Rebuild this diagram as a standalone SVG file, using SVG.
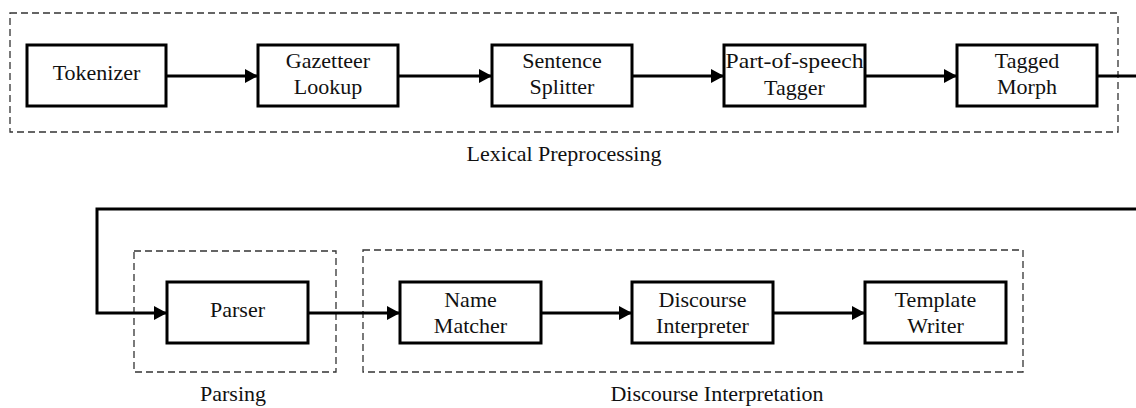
<svg xmlns="http://www.w3.org/2000/svg" width="1136" height="408" viewBox="0 0 1136 408">
<style>
.grp{fill:none;stroke:#333;stroke-width:1.3;stroke-dasharray:7,4}
.box{fill:#fff;stroke:#000;stroke-width:3}
.t{font-family:"Liberation Serif","Times New Roman",serif;font-size:22px;fill:#111;text-anchor:middle}
.c{fill:none;stroke:#000;stroke-width:3}
</style>
<defs>
<marker id="ah" markerWidth="14" markerHeight="14" refX="13" refY="7" orient="auto" markerUnits="userSpaceOnUse">
<path d="M0,0 L13,7 L0,14 Z" fill="#000"/>
</marker>
</defs>
<g id="groups">
<rect class="grp" x="10" y="13" width="1108" height="119"/>
<text class="t" x="564" y="161">Lexical Preprocessing</text>
<rect class="grp" x="134" y="251" width="202" height="121"/>
<text class="t" x="233" y="401">Parsing</text>
<rect class="grp" x="363" y="250" width="660" height="122"/>
<text class="t" x="717" y="401">Discourse Interpretation</text>
</g>
<g id="connectors">
<line class="c" x1="166" y1="76" x2="258" y2="76" marker-end="url(#ah)"/>
<line class="c" x1="398" y1="76" x2="492" y2="76" marker-end="url(#ah)"/>
<line class="c" x1="632" y1="76" x2="724" y2="76" marker-end="url(#ah)"/>
<line class="c" x1="865" y1="76" x2="957" y2="76" marker-end="url(#ah)"/>
<line class="c" x1="1097" y1="76" x2="1136" y2="76"/>
<polyline class="c" points="1136,209 97,209 97,313 167,313" marker-end="url(#ah)"/>
<line class="c" x1="308" y1="313" x2="400" y2="313" marker-end="url(#ah)"/>
<line class="c" x1="541" y1="313" x2="632" y2="313" marker-end="url(#ah)"/>
<line class="c" x1="773" y1="313" x2="865" y2="313" marker-end="url(#ah)"/>
</g>
<g id="tokenizer"><rect class="box" x="27" y="45" width="139" height="61"/><text class="t" x="96.5" y="80">Tokenizer</text></g>
<g id="gazetteer"><rect class="box" x="258" y="45" width="140" height="61"/><text class="t" x="328" y="68">Gazetteer</text><text class="t" x="328" y="94">Lookup</text></g>
<g id="splitter"><rect class="box" x="492" y="45" width="140" height="61"/><text class="t" x="562" y="68">Sentence</text><text class="t" x="562" y="94">Splitter</text></g>
<g id="tagger"><rect class="box" x="724" y="45" width="141" height="61"/><text class="t" x="794.5" y="68" textLength="138" lengthAdjust="spacingAndGlyphs">Part-of-speech</text><text class="t" x="794.5" y="95">Tagger</text></g>
<g id="morph"><rect class="box" x="957" y="45" width="140" height="61"/><text class="t" x="1027" y="68">Tagged</text><text class="t" x="1027" y="94">Morph</text></g>
<g id="parser"><rect class="box" x="167" y="282" width="141" height="61"/><text class="t" x="237.5" y="317">Parser</text></g>
<g id="matcher"><rect class="box" x="400" y="282" width="141" height="61"/><text class="t" x="470.5" y="307">Name</text><text class="t" x="470.5" y="333">Matcher</text></g>
<g id="interpreter"><rect class="box" x="632" y="282" width="141" height="61"/><text class="t" x="702.5" y="307">Discourse</text><text class="t" x="702.5" y="333">Interpreter</text></g>
<g id="writer"><rect class="box" x="865" y="282" width="141" height="61"/><text class="t" x="935.5" y="307">Template</text><text class="t" x="935.5" y="333">Writer</text></g>
</svg>
